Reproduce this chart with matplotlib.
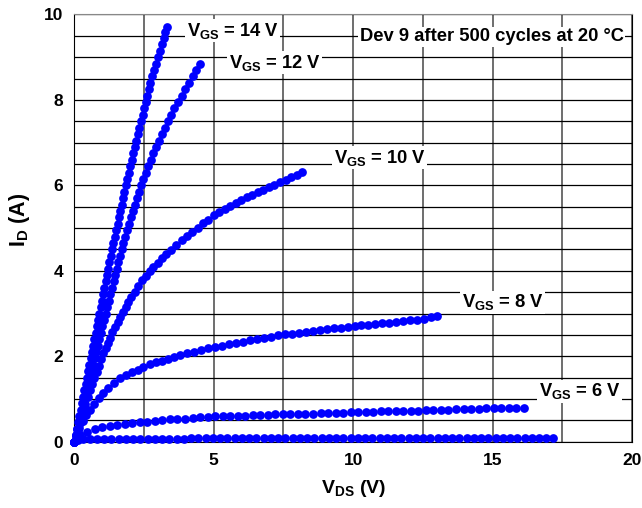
import matplotlib
matplotlib.use("Agg")
import matplotlib.pyplot as plt
from matplotlib.ticker import MultipleLocator

# output characteristics, Dev 9 after 500 cycles

# lowest curve (no label)
vds_low = [0.00, 0.12, 0.30, 0.55, 0.81, 1.07, 1.33, 1.59, 1.85, 2.11, 2.37, 2.63, 2.89, 3.15, 3.41, 3.67,
           3.93, 4.19, 4.45, 4.71, 4.97, 5.23, 5.49, 5.75, 6.01, 6.27, 6.53, 6.79, 7.05, 7.31, 7.57, 7.83,
           8.09, 8.35, 8.61, 8.87, 9.13, 9.39, 9.65, 9.91, 10.17, 10.43, 10.69, 10.95, 11.21, 11.47, 11.73,
           11.99, 12.25, 12.51, 12.77, 13.03, 13.29, 13.55, 13.81, 14.07, 14.33, 14.59, 14.85, 15.11, 15.37,
           15.63, 15.89, 16.15, 16.41, 16.67, 16.93, 17.17]
id_low = [0.00, 0.04, 0.06, 0.07,
          0.07, 0.07, 0.07, 0.07, 0.07, 0.07, 0.07, 0.07, 0.07, 0.07, 0.07, 0.07, 0.07,
          0.08, 0.08, 0.08, 0.08, 0.08, 0.08, 0.08, 0.08, 0.08, 0.08, 0.08, 0.08, 0.08, 0.08, 0.08, 0.08,
          0.08, 0.08, 0.08, 0.08, 0.08, 0.08, 0.08,
          0.09, 0.09, 0.09, 0.09, 0.09, 0.09, 0.09, 0.09, 0.09, 0.09, 0.09, 0.09, 0.09, 0.09, 0.09, 0.09,
          0.09, 0.09, 0.09, 0.09, 0.09, 0.09, 0.09, 0.09, 0.09, 0.09, 0.09, 0.09]

# VGS = 6 V
vds_6 = [0.00, 0.08, 0.20, 0.46, 0.73, 1.00, 1.27, 1.54, 1.81, 2.08, 2.35, 2.62, 2.89, 3.16, 3.43, 3.70,
         3.97, 4.24, 4.51, 4.78, 5.05, 5.32, 5.59, 5.86, 6.13, 6.40, 6.67, 6.94, 7.21, 7.48, 7.75, 8.02,
         8.29, 8.56, 8.83, 9.10, 9.37, 9.64, 9.91, 10.18, 10.45, 10.72, 10.99, 11.26, 11.53, 11.80, 12.07,
         12.34, 12.61, 12.88, 13.15, 13.42, 13.69, 13.96, 14.23, 14.50, 14.77, 15.04, 15.31, 15.58, 15.85, 16.12]
id_6 = [0.00, 0.08, 0.16, 0.23, 0.29, 0.34, 0.37, 0.40, 0.42, 0.44, 0.46, 0.47, 0.49, 0.50, 0.52, 0.53,
        0.54, 0.55, 0.57, 0.58, 0.59, 0.59, 0.60, 0.61, 0.61, 0.62, 0.63, 0.63, 0.64, 0.64, 0.65, 0.65,
        0.66, 0.66, 0.67, 0.67, 0.68, 0.68, 0.69, 0.69, 0.70, 0.70, 0.71, 0.71, 0.72, 0.72, 0.73,
        0.73, 0.74, 0.74, 0.75, 0.75, 0.76, 0.76, 0.77, 0.77, 0.78, 0.78, 0.79, 0.79, 0.80, 0.80]

# VGS = 8 V
vds_8 = [0.00, 0.08, 0.18, 0.30, 0.42, 0.56, 0.72, 0.88, 1.04, 1.22, 1.42, 1.64, 1.85, 2.06, 2.27, 2.47,
         2.70, 2.92, 3.14, 3.36, 3.58, 3.80, 4.05, 4.30, 4.55, 4.80, 5.05, 5.30, 5.55, 5.80, 6.05, 6.30,
         6.55, 6.80, 7.05, 7.30, 7.55, 7.80, 8.05, 8.30, 8.55, 8.80, 9.05, 9.30, 9.55, 9.80, 10.05, 10.30,
         10.55, 10.80, 11.05, 11.30, 11.55, 11.80, 12.05, 12.30, 12.55, 12.80, 13.00]
id_8 = [0.00, 0.16, 0.32, 0.48, 0.62, 0.74, 0.88, 1.02, 1.15, 1.26, 1.37, 1.48, 1.56, 1.63, 1.69, 1.75,
        1.81, 1.86, 1.90, 1.94, 1.99, 2.03, 2.08, 2.11, 2.15, 2.19, 2.22, 2.25, 2.28, 2.31, 2.34, 2.37,
        2.40, 2.43, 2.46, 2.49, 2.51, 2.53, 2.55, 2.57, 2.59, 2.61, 2.63, 2.65, 2.67, 2.69, 2.71, 2.72,
        2.74, 2.76, 2.77, 2.79, 2.81, 2.82, 2.84, 2.86, 2.88, 2.91, 2.94]

# VGS = 10 V
vds_10 = [0.00, 0.06, 0.12, 0.19, 0.26, 0.33, 0.40, 0.48, 0.56, 0.64, 0.72, 0.80, 0.88, 0.96,
          1.04, 1.12, 1.20, 1.28, 1.37, 1.46, 1.55, 1.64, 1.74, 1.84, 1.94,
          2.05, 2.17, 2.29, 2.42, 2.56, 2.70, 2.84, 2.99, 3.14, 3.30, 3.47, 3.65, 3.85,
          4.04, 4.23, 4.42, 4.61, 4.80, 5.00, 5.20, 5.40, 5.60, 5.79, 5.98, 6.18,
          6.38, 6.58, 6.78, 6.98, 7.18, 7.38, 7.58, 7.78, 7.98, 8.15]
id_10 = [0.00, 0.14, 0.28, 0.44, 0.59, 0.74, 0.88, 1.05, 1.21, 1.36, 1.50, 1.64, 1.78, 1.93,
         2.07, 2.19, 2.31, 2.43, 2.56, 2.68, 2.80, 2.92, 3.04, 3.15, 3.26,
         3.38, 3.51, 3.64, 3.78, 3.89, 3.99, 4.09, 4.19, 4.29, 4.39, 4.49, 4.60, 4.71,
         4.81, 4.91, 5.01, 5.11, 5.20, 5.30, 5.37, 5.44, 5.51, 5.58, 5.65, 5.72,
         5.78, 5.84, 5.90, 5.96, 6.01, 6.07, 6.13, 6.19, 6.25, 6.31]

# VGS = 12 V
vds_12 = [0.00, 0.06, 0.11, 0.17, 0.23, 0.28, 0.34, 0.39, 0.45, 0.51,
          0.56, 0.62, 0.68, 0.73, 0.79, 0.84, 0.90, 0.96, 1.01, 1.07,
          1.13, 1.18, 1.24, 1.29, 1.35, 1.41, 1.46, 1.52, 1.58, 1.64,
          1.70, 1.76, 1.82, 1.88, 1.95, 2.02, 2.09, 2.16, 2.24, 2.32,
          2.40, 2.48, 2.57, 2.66, 2.75, 2.84, 2.94, 3.04, 3.14,
          3.25, 3.36, 3.47, 3.59, 3.72, 3.85, 3.98, 4.11, 4.24, 4.38, 4.52]
id_12 = [0.00, 0.15, 0.30, 0.45, 0.60, 0.75, 0.90, 1.05, 1.20, 1.35,
         1.50, 1.65, 1.80, 1.95, 2.10, 2.25, 2.40, 2.55, 2.70, 2.85,
         3.00, 3.15, 3.30, 3.45, 3.60, 3.75, 3.90, 4.05, 4.20, 4.35,
         4.50, 4.65, 4.80, 4.95, 5.10, 5.25, 5.40, 5.55, 5.70, 5.85,
         6.00, 6.15, 6.30, 6.45, 6.60, 6.75, 6.90, 7.05, 7.20,
         7.35, 7.50, 7.65, 7.80, 7.95, 8.10, 8.25, 8.40, 8.55, 8.70, 8.84]

# VGS = 14 V
vds_14 = [0.00, 0.05, 0.09, 0.14, 0.18, 0.23, 0.27, 0.32, 0.36, 0.41,
          0.45, 0.50, 0.54, 0.59, 0.63, 0.68, 0.72, 0.77, 0.81, 0.86,
          0.90, 0.95, 0.99, 1.04, 1.08, 1.13, 1.17, 1.22, 1.26, 1.31, 1.35,
          1.40, 1.45, 1.50, 1.55, 1.60, 1.65, 1.70, 1.75, 1.80, 1.85,
          1.90, 1.96, 2.01, 2.06, 2.12, 2.17, 2.22, 2.28, 2.33, 2.39,
          2.45, 2.50, 2.56, 2.62, 2.67, 2.73, 2.79, 2.86, 2.93,
          3.00, 3.06, 3.13, 3.20, 3.26, 3.31]
id_14 = [0.00, 0.15, 0.30, 0.45, 0.60, 0.75, 0.90, 1.05, 1.20, 1.35,
         1.50, 1.65, 1.80, 1.95, 2.10, 2.25, 2.40, 2.55, 2.70, 2.85,
         3.00, 3.15, 3.30, 3.45, 3.60, 3.75, 3.90, 4.05, 4.20, 4.35, 4.50,
         4.65, 4.80, 4.95, 5.10, 5.25, 5.40, 5.55, 5.70, 5.85, 6.00,
         6.15, 6.30, 6.45, 6.60, 6.75, 6.90, 7.05, 7.20, 7.35, 7.50,
         7.65, 7.80, 7.95, 8.10, 8.25, 8.40, 8.55, 8.70, 8.85,
         9.00, 9.15, 9.30, 9.45, 9.60, 9.71]

vgs_labels = [r"$V_{GS}$ = 14 V", r"$V_{GS}$ = 12 V", r"$V_{GS}$ = 10 V", r"$V_{GS}$ = 8 V", r"$V_{GS}$ = 6 V"]
title_text = "Dev 9 after 500 cycles at 20 °C"

plt.rcParams['font.family'] = ['Liberation Sans', 'DejaVu Sans']
plt.rcParams['font.weight'] = 'bold'
plt.rcParams['axes.labelweight'] = 'bold'
plt.rcParams['mathtext.fontset'] = 'custom'
plt.rcParams['mathtext.rm'] = 'Liberation Sans:bold'
plt.rcParams['mathtext.it'] = 'Liberation Sans:bold'
plt.rcParams['mathtext.bf'] = 'Liberation Sans:bold'
plt.rcParams['mathtext.default'] = 'rm'

fig = plt.figure(figsize=(6.42, 5.08), dpi=100)
ax = fig.add_axes([0.1157, 0.1305, 0.8687, 0.841])

curves = [(vds_low, id_low), (vds_6, id_6), (vds_8, id_8), (vds_10, id_10), (vds_12, id_12), (vds_14, id_14)]
for vx, iy in curves:
    ax.plot(vx, iy, 'o', color='#0000ff', ms=6.3, mew=0, zorder=3, clip_on=False)

ax.set_xlim(0, 20)
ax.set_ylim(0, 10)
ax.xaxis.set_major_locator(MultipleLocator(5))
ax.xaxis.set_minor_locator(MultipleLocator(2.5))
ax.yaxis.set_major_locator(MultipleLocator(2))
ax.yaxis.set_minor_locator(MultipleLocator(0.5))
ax.grid(which='both', axis='y', color='black', lw=0.9)
ax.grid(which='both', axis='x', color='#555555', lw=1.2)
ax.set_axisbelow(True)
ax.tick_params(which='both', length=0, labelsize=12.5, pad=8)

for side in ['left', 'bottom', 'right']:
    ax.spines[side].set_color('black')
ax.spines['top'].set_color('#888888')

ax.set_xlabel(r"$V_{DS}$ (V)", fontsize=14, labelpad=7)
ax.set_ylabel(r"$I_{D}$ (A)", fontsize=15.5)
ax.yaxis.set_label_coords(-0.076, 0.52)

# label positions (data coords)
label_pos = [(5.69, 9.62), (7.19, 8.87), (10.96, 6.65), (15.37, 3.26), (18.13, 1.18)]
box = dict(facecolor='white', edgecolor='none', pad=1.0)
for (lx, ly), s in zip(label_pos, vgs_labels):
    ax.text(lx, ly, s, ha='center', va='center', fontsize=13.2, bbox=box, zorder=4)
ax.text(14.97, 9.48, title_text, ha='center', va='center', fontsize=13.2, bbox=box, zorder=4)

fig.savefig("out.png", dpi=100)
